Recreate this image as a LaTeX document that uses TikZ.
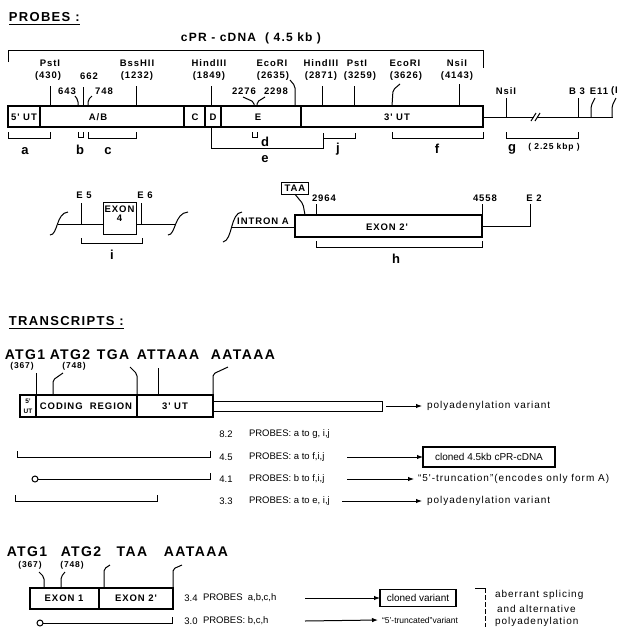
\documentclass[tikz,border=0pt]{standalone}
\usepackage{fontspec}
\setmainfont{Liberation Sans}
\newfontfamily\spc[LetterSpace=10]{Liberation Sans}
\usetikzlibrary{arrows.meta}
\begin{document}
\begin{tikzpicture}[x=1pt,y=-1pt,
  every node/.style={inner sep=0pt,outer sep=0pt},
  hd/.style={font=\spc\bfseries\fontsize{13}{15}\selectfont,anchor=west},
  ttl/.style={font=\spc\bfseries\fontsize{12}{14}\selectfont},
  sm/.style={font=\spc\bfseries\fontsize{9.5}{10}\selectfont},
  tinylab/.style={font=\spc\bfseries\fontsize{8.5}{9}\selectfont},
  letr/.style={font=\bfseries\fontsize{13}{14}\selectfont},
  sq/.style={font=\spc\bfseries\fontsize{14}{16}\selectfont},
  rw/.style={font=\fontsize{9.5}{11}\selectfont,anchor=west},
  rs/.style={font=\spc\fontsize{10}{11}\selectfont,anchor=west},
  num/.style={font=\fontsize{9.5}{11}\selectfont},
  ln/.style={line width=1.3pt},
  tn/.style={line width=1pt},
  arr/.style={-{Latex[length=6pt,width=4.5pt]},line width=1pt},
  bx/.style={draw,line width=1.1pt,inner xsep=3pt,inner ysep=2.5pt},
  rc/.style={rounded corners=2pt},
  circ/.style={draw,circle,line width=1pt,minimum size=6pt}
]
\useasboundingbox (0,0) rectangle (618,627);
\clip (0,0) rectangle (618,627);

% ---------- PROBES ----------
\node[hd] (probes) at (9,17) {PROBES :};
\draw[tn] ([yshift=-3pt]probes.south west) -- ([yshift=-3pt]probes.south east);
\node[ttl] (cdna) at (251,38) {cPR - cDNA \ ( 4.5 kb )};
\coordinate (brl) at (8,62); \coordinate (brr) at (483,68);
\draw[tn] (brl) -- (8,50) -- (483,50) -- (brr);

% main bar
\draw[ln] (8,106) rectangle (483,127);
\foreach \x in {40,184,205,221,301} \draw[ln] (\x,106) -- (\x,127);
\node[sm] (u5) at (24,117) {5' UT};
\node[sm] (ab) at (98,117) {A/B};
\node[sm] (segC) at (195,117) {C};
\node[sm] (segD) at (213,117) {D};
\node[sm] (segE) at (258,117) {E};
\node[sm] (u3) at (397,117) {3' UT};

% restriction sites
\node[sm] (pst1) at (50,63) {PstI};
\node[sm] (pst1n) at (48,76) {(430)};
\draw[tn] (50,86) -- (50,106);
\node[sm] (s662) at (89,76) {662};
\draw[tn] (83,87) -- (83,106);
\node[sm] (s643) at (67,91) {643};
\draw[tn,rc] (75,96) -- (78,100) -- (78,106);
\node[sm] (s748) at (104,91) {748};
\draw[tn,rc] (92,96) -- (88,100) -- (88,106);
\node[sm] (bss) at (137,63) {BssHII};
\node[sm] (bssn) at (137,76) {(1232)};
\draw[tn] (136,86) -- (136,106);
\node[sm] (hin1) at (209,63) {HindIII};
\node[sm] (hin1n) at (209,76) {(1849)};
\draw[tn] (211,86) -- (211,106);
\node[sm] (s2276) at (244,91) {2276};
\draw[tn,rc] (243,97) -- (254,102) -- (254,106);
\node[sm] (s2298) at (276,91) {2298};
\draw[tn,rc] (265,97) -- (257,102) -- (257,106);
\node[sm] (eco1) at (272,63) {EcoRI};
\node[sm] (eco1n) at (273,76) {(2635)};
\draw[tn,rc] (290,80) -- (295,86) -- (295,106);
\node[sm] (hin2) at (321,63) {HindIII};
\node[sm] (hin2n) at (321,76) {(2871)};
\draw[tn] (322,86) -- (322,106);
\node[sm] (pst2) at (357,63) {PstI};
\node[sm] (pst2n) at (360,76) {(3259)};
\draw[tn] (354,86) -- (354,106);
\node[sm] (eco2) at (405,63) {EcoRI};
\node[sm] (eco2n) at (406,76) {(3626)};
\draw[tn,rc] (400,84) -- (393,90) -- (392,106);
\node[sm] (nsi1) at (457,63) {NsiI};
\node[sm] (nsi1n) at (457,76) {(4143)};
\draw[tn] (459,84) -- (459,106);

% genomic extension
\draw[tn] (483,117) -- (534,117);
\draw[tn] (531,121) -- (536,113) (535,121) -- (540,113);
\draw[tn] (537,117) -- (613,117);
\node[sm] (nsi2) at (506,91) {NsiI};
\draw[tn] (506,98) -- (506,117);
\node[sm] (b3) at (577,91) {B 3};
\draw[tn] (578,98) -- (578,117);
\node[sm] (e11) at (599,91) {E11};
\draw[tn,rc] (595,98) -- (591,106) -- (591,117);
\node[sm,anchor=west] (eX) at (611,91) {(I};
\draw[tn,rc] (616,98) -- (612,106) -- (612,117);

% probe brackets
\draw[tn] (8,132) -- (8,138) -- (50,138) -- (50,132);
\node[letr] (pa) at (25,151) {a};
\draw[tn] (78,132) -- (78,137) -- (83,137) -- (83,132);
\node[letr] (pb) at (80,150) {b};
\draw[tn] (88,132) -- (88,138) -- (136,138) -- (136,132);
\node[letr] (pc) at (108,151) {c};
\draw[tn] (252,132) -- (252,137) -- (257,137) -- (257,132);
\node[letr] (pd) at (265,142) {d};
\draw[tn] (211,127) -- (211,148) -- (323,148) -- (323,133);
\node[letr] (pe) at (265,159) {e};
\draw[tn] (323,138) -- (355,138) -- (355,133);
\node[letr] (pj) at (338,149) {j};
\draw[tn] (392,132) -- (392,138) -- (483,138) -- (483,132);
\node[letr] (pf) at (437,149) {f};
\draw[tn] (506,132) -- (506,138) -- (578,138) -- (578,132);
\node[letr] (pg) at (512,149) {g};
\node[font=\spc\bfseries\fontsize{8.5}{9}\selectfont] (kbp) at (554,147) {( 2.25 kbp )};

% exon 4
\draw[tn] (50,235) .. controls (58,235) and (56,213) .. (68,212);
\draw[tn] (57.5,224) -- (175.7,224);
\draw[tn] (168,235) .. controls (176,235) and (174,213) .. (188,212);
\draw[tn,fill=white] (103,202) rectangle (136,234);
\node[sm] (ex4a) at (119.5,209) {EXON};
\node[sm] (ex4b) at (119.5,218) {4};
\node[sm] (e5) at (84,195) {E 5};
\draw[tn] (81,203) -- (81,224);
\node[sm] (e6) at (145,195) {E 6};
\draw[tn] (141,203) -- (141,224);
\draw[tn] (81,238) -- (81,243) -- (142,243) -- (142,238);
\node[letr] (pi) at (112,255) {i};

% exon 2'
\draw[tn] (223,242) .. controls (233,240) and (230,213) .. (242,212);
\draw[tn] (231.8,227) -- (295,227);
\node[sm] (intron) at (263,221) {INTRON A};
\draw[ln] (295,215) rectangle (482,237);
\node[sm] (ex2) at (387,227) {EXON 2'};
\node[bx,sm] (taa) at (295,188.5) {TAA};
\draw[tn,rc] (taa.south) -- (303,204) -- (305,215);
\node[sm] (s2964) at (324,198) {2964};
\draw[tn] (316,204) -- (316,215);
\node[sm] (s4558) at (485,198) {4558};
\draw[tn] (482,204) -- (482,215);
\node[sm] (e2) at (534,198) {E 2};
\draw[tn] (482,226) -- (530,226) -- (530,204);
\draw[tn] (316,241) -- (316,247) -- (482,247) -- (482,241);
\node[letr] (ph) at (396,259) {h};

% ---------- TRANSCRIPTS ----------
\node[hd] (trans) at (9,321) {TRANSCRIPTS :};
\draw[tn] ([yshift=-3pt]trans.south west) -- ([yshift=-3pt]trans.south east);

% transcript 1
\node[sq] (t1a) at (25,355) {ATG1};
\node[sq] (t1b) at (70,355) {ATG2};
\node[sq] (t1c) at (113,355) {TGA};
\node[sq] (t1d) at (168,355) {ATTAAA};
\node[sq] (t1e) at (243,355) {AATAAA};
\node[tinylab] (t1p1) at (22,366) {(367)};
\node[tinylab] (t1p2) at (74,366) {(748)};
\draw[tn] (36,373) -- (36,395);
\draw[tn,rc] (63,373) -- (53,380) -- (53,395);
\draw[tn,rc] (130,367) -- (137,374) -- (137,395);
\draw[tn] (158,368) -- (158,395);
\draw[tn,rc] (228,367) -- (213,374) -- (213,395);
\draw[ln] (20,395) rectangle (213,417);
\draw[ln] (36,395) -- (36,417) (137,395) -- (137,417);
\draw[tn] (213,401) rectangle (382,411);
\node[font=\bfseries\fontsize{6.5}{6.5}\selectfont] (t1u5a) at (28,401) {5'};
\node[font=\bfseries\fontsize{6.5}{6.5}\selectfont] (t1u5b) at (28,411) {UT};
\node[sm] (coding) at (86,406) {CODING\ \ REGION};
\node[sm] (t1u3) at (175,406) {3' UT};
\coordinate (t1end) at (386,406);
\node[rs] (pv1) at (427,406) {polyadenylation variant};
\draw[arr] (t1end) -- ([xshift=-5pt]pv1.west);

% rows
\node[num] (n82) at (226,434) {8.2};
\node[rw] (r82) at (249,434) {PROBES: a to g, i,j};

\draw[tn] (17,451) -- (17,457) -- (210,457) -- (210,451);
\node[num] (n45) at (226,457) {4.5};
\node[rw] (r45) at (249,457) {PROBES: a to f,i,j};
\node[draw,line width=1.1pt,minimum width=132pt,minimum height=20pt,font=\fontsize{10}{11}\selectfont] (clone1) at (489,457) {cloned 4.5kb cPR-cDNA};
\draw[arr] (347,457) -- (clone1.west);

\node[circ] (c41) at (35,479) {};
\draw[tn] (c41.east) -- (210,479) -- (210,473);
\node[num] (n41) at (226,479) {4.1};
\node[rw] (r41) at (249,479) {PROBES: b to f,i,j};
\node[rs] (trunc1) at (418,479) {“5'-truncation”(encodes only form A)};
\draw[arr] (347,479) -- ([xshift=-4pt]trunc1.west);

\draw[tn] (15,495) -- (15,501) -- (157,501) -- (157,495);
\node[num] (n33) at (226,501) {3.3};
\node[rw] (r33) at (249,501) {PROBES: a to e, i,j};
\node[rs] (pv2) at (427,501) {polyadenylation variant};
\draw[arr] (342,501) -- ([xshift=-5pt]pv2.west);

% transcript 2
\node[sq] (t2a) at (27,552) {ATG1};
\node[sq] (t2b) at (81,552) {ATG2};
\node[sq] (t2c) at (132,552) {TAA};
\node[sq] (t2d) at (196,552) {AATAAA};
\node[tinylab] (t2p1) at (30,565) {(367)};
\node[tinylab] (t2p2) at (72,565) {(748)};
\draw[tn,rc] (39,572) -- (44,577) -- (44,588);
\draw[tn,rc] (65,572) -- (61,577) -- (61,588);
\draw[tn,rc] (110,565) -- (104,569) -- (104,588);
\draw[tn,rc] (182,565) -- (173,569) -- (173,588);
\draw[ln] (30,588) rectangle (173,609);
\draw[ln] (99,588) -- (99,609);
\node[sm] (ex1b) at (64,598) {EXON 1};
\node[sm] (ex2b) at (136,598) {EXON 2'};

\node[num] (n34) at (191,598) {3.4};
\node[rw] (r34) at (203,598) {PROBES\ \ a,b,c,h};
\node[draw,line width=1.1pt,minimum width=76pt,minimum height=17pt,font=\fontsize{10}{11}\selectfont] (clone2) at (418,598) {cloned variant};
\draw[arr] (305,598) -- (clone2.west);

\draw[tn] (475,588) -- (485,588);
\draw[tn,dash pattern=on 5pt off 2pt] (485,588) -- (485,627);
\node[rs] (ab1) at (495,595) {aberrant splicing};
\node[rs] (ab2) at (497,609) {and alternative};
\node[rs] (ab3) at (495,622) {polyadenylation};

\node[circ] (c30) at (40,623) {};
\draw[tn] (c30.east) -- (172,623) -- (172,617);
\node[num] (n30) at (191,621) {3.0};
\node[rw] (r30) at (203,621) {PROBES: b,c,h};
\node[font=\fontsize{8.5}{10}\selectfont,anchor=west] (trunc2) at (382,620) {“5'-truncated”variant};
\draw[arr] (305,621) -- ([xshift=-4pt]trunc2.west);
\end{tikzpicture}
\end{document}
